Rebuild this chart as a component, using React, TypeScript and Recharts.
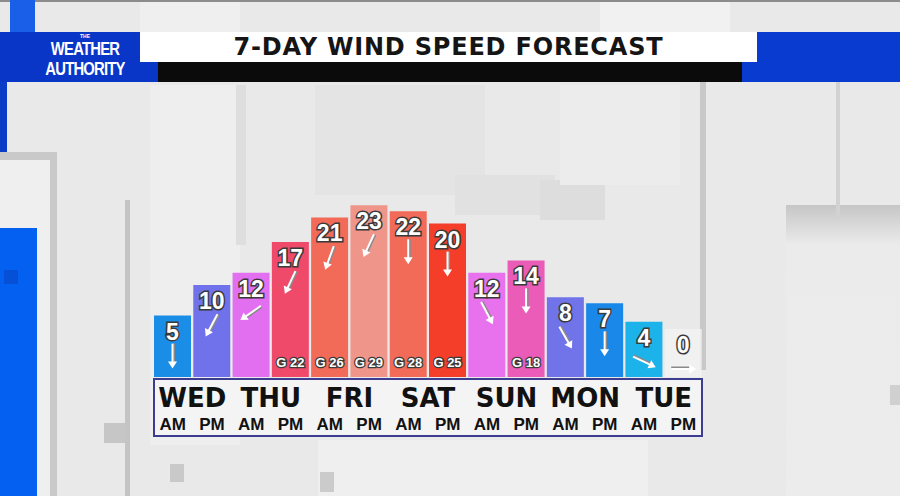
import React from 'react';
import { BarChart, Bar, XAxis, YAxis, Cell, LabelList } from 'recharts';

// wind forecast, AM/PM halves of each day
const DAYS = ['WED', 'THU', 'FRI', 'SAT', 'SUN', 'MON', 'TUE'];
const HALVES = ['AM', 'PM'];
const SPEEDS = [5, 10, 12, 17, 21, 23, 22, 20, 12, 14, 8, 7, 4, 0];
const GUSTS: (number | null)[] = [null, null, null, 22, 26, 29, 28, 25, null, 18, null, null, null, null];
// arrow heading in degrees, 0 = pointing down, positive turns toward the left
const ARROW_DEG = [0, 28, 55, 25, 20, 25, 0, 0, -28, 0, -30, 0, -65, -90];

const BAR_COLORS = [
  '#1a8ee6', '#6f72ea', '#e26ef0', '#f04a6a', '#f26a58', '#f0958a', '#f26a58',
  '#f43e2a', '#e872ee', '#ea5cb8', '#7174e8', '#1a88e8', '#1cb2ea', '#f2f2f2',
];

const FLOOR = -5;
const W = 900;
const H = 496;
const PLOT_L = 153;
const PLOT_R = 703;
const BAND = (PLOT_R - PLOT_L) / SPEEDS.length;

const data = SPEEDS.map((speed, i) => ({
  slot: `${DAYS[Math.floor(i / 2)]} ${HALVES[i % 2]}`,
  speed,
}));

const outlined = {
  fill: '#fff',
  stroke: '#3a3a3a',
  strokeWidth: 3,
  paintOrder: 'stroke' as const,
  fontFamily: '"Liberation Sans", Arial, sans-serif',
  fontWeight: 700,
};

const BarLabel = (props: any) => {
  const { x, y, width, index, value } = props;
  const cx = x + width / 2;
  const gust = GUSTS[index];
  const ay = y + 40;
  return (
    <g>
      <text x={cx} y={y + 24} textAnchor="middle" fontSize={23} {...outlined}>
        {value}
      </text>
      <g transform={`translate(${cx},${ay}) rotate(${ARROW_DEG[index]})`}>
        <line x1={1.5} y1={-12} x2={1.5} y2={8} stroke="#8a8a8a" strokeWidth={2} />
        <line x1={0} y1={-12} x2={0} y2={8} stroke="#fff" strokeWidth={2} />
        <polygon points="-4.5,6 4.5,6 0,13" fill="#fff" />
      </g>
      {gust != null && (
        <text x={cx} y={367} textAnchor="middle" fontSize={13} {...outlined} strokeWidth={2.5}>
          {`G ${gust}`}
        </text>
      )}
    </g>
  );
};

const SlotTick = (props: any) => {
  const { x, y, payload, index } = props;
  const half = HALVES[index % 2];
  const font = '"Liberation Sans", Arial, sans-serif';
  return (
    <g>
      {index % 2 === 0 && (
        <text
          x={x + BAND / 2}
          y={y + 22}
          textAnchor="middle"
          fontSize={26}
          fontWeight={700}
          fontFamily='"DejaVu Sans", sans-serif'
          fill="#111"
        >
          {DAYS[Math.floor(index / 2)]}
        </text>
      )}
      <text x={x} y={y + 45} textAnchor="middle" fontSize={17} fontWeight={700} fontFamily={font} fill="#111">
        {half}
      </text>
      <title>{payload.value}</title>
    </g>
  );
};

const box = (l: number, t: number, w: number, h: number, bg: string, extra: React.CSSProperties = {}) => (
  <div style={{ position: 'absolute', left: l, top: t, width: w, height: h, background: bg, ...extra }} />
);

const logoLine = (text: string, top: number, size: number) => (
  <div
    style={{
      position: 'absolute', left: 25, top, width: 120, height: size, lineHeight: `${size}px`,
      textAlign: 'center', color: '#fff', fontFamily: '"Liberation Sans", Arial, sans-serif',
      fontWeight: 700, fontSize: size - 1, letterSpacing: size > 10 ? -1 : 0,
      transform: size > 10 ? 'scaleX(0.78)' : undefined,
    }}
  >
    {text}
  </div>
);

export default function App() {
  return (
    <div style={{ position: 'absolute', left: 0, top: 0, width: W, height: H, overflow: 'hidden', background: '#e9e9e9' }}>
      {/* backdrop */}
      {box(0, 0, W, 2, '#8c8c8c')}
      {box(140, 2, 100, 30, '#efefef')}
      {box(600, 2, 130, 30, '#f1f1f1')}
      {box(10, 0, 25, 32, '#1a5fe8')}
      {box(0, 80, 7, 72, '#0a3cc8')}
      {box(0, 152, 57, 344, '#c9c9c9')}
      {box(0, 160, 50, 336, '#efefef')}
      {box(0, 228, 37, 268, '#0460f0')}
      {box(4, 270, 14, 14, '#0650d8')}
      {box(125, 200, 5, 296, '#c4c4c4')}
      {box(104, 423, 21, 20, '#c6c6c6')}
      {box(150, 85, 90, 360, '#eeeeee')}
      {box(236, 85, 10, 160, '#dedede')}
      {box(315, 85, 170, 110, '#e4e4e4')}
      {box(455, 175, 100, 40, '#e1e1e1')}
      {box(540, 180, 65, 40, '#dddddd')}
      {box(560, 85, 120, 100, '#ececec')}
      {box(700, 80, 6, 290, '#c8c8c8')}
      {box(786, 205, 114, 291, 'linear-gradient(#c6c6c6, #ebebeb 40px, #ececec)')}
      {box(836, 80, 4, 140, '#d2d2d2')}
      {box(318, 440, 330, 56, '#efefef')}
      {box(170, 464, 14, 18, '#c9c9c9')}
      {box(320, 472, 14, 20, '#cbcbcb')}
      {box(890, 385, 10, 20, '#d0d0d0')}

      {/* header */}
      {box(742, 32, 158, 50, '#0a3bd0')}
      {box(0, 32, 158, 50, '#0a36c8')}
      {box(158, 62, 584, 20, '#0b0b0b')}
      {box(140, 32, 617, 30, '#ffffff')}
      <div
        style={{
          position: 'absolute', left: 140, top: 32, width: 617, height: 30, lineHeight: '30px',
          textAlign: 'center', fontFamily: '"DejaVu Sans", sans-serif', fontWeight: 700, fontSize: 24,
          color: '#151515', letterSpacing: 0.8,
        }}
      >
        7-DAY WIND SPEED FORECAST
      </div>
      {logoLine('THE', 33, 6)}
      {logoLine('WEATHER', 39, 20)}
      {logoLine('AUTHORITY', 59, 20)}

      {/* axis label box */}
      {box(153, 378, 550, 59, '#f4f4f4', { border: '2px solid #3c3c90', boxSizing: 'border-box' })}

      <div style={{ position: 'absolute', left: 0, top: 0 }}>
        <BarChart
          width={W}
          height={H}
          data={data}
          margin={{ top: 199, right: W - PLOT_R, bottom: 59, left: PLOT_L }}
        >
          <XAxis dataKey="slot" axisLine={false} tickLine={false} height={60} interval={0} tick={<SlotTick />} />
          <YAxis hide domain={[FLOOR, 24]} />
          <Bar
            dataKey={(d: any) => [FLOOR, d.speed]}
            barSize={37}
            minPointSize={48}
            isAnimationActive={false}
          >
            {data.map((d, i) => (
              <Cell key={d.slot} fill={BAR_COLORS[i]} fillOpacity={i === SPEEDS.length - 1 ? 0.85 : 1} />
            ))}
            <LabelList dataKey="speed" content={<BarLabel />} />
          </Bar>
        </BarChart>
      </div>
    </div>
  );
}
